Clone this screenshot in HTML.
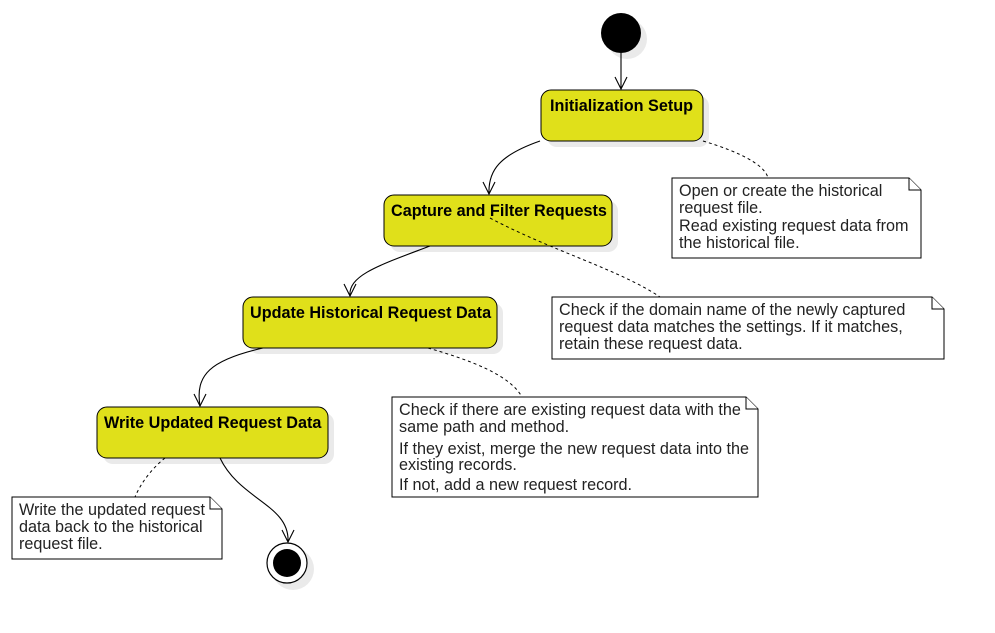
<!DOCTYPE html>
<html><head><meta charset="utf-8"><style>
html,body{margin:0;padding:0;background:#fff;}
svg{display:block;font-family:"Liberation Sans",Arial,sans-serif;}
.n{fill:#e0e01a;stroke:#000;stroke-width:1;}
.s{fill:#eaeaea;}
.b{font-weight:bold;font-size:16.2px;fill:#000;}
.t{font-size:16.2px;fill:#222;}
.c{fill:none;stroke:#000;stroke-width:1.1;}
.d{fill:none;stroke:#000;stroke-width:1;stroke-dasharray:3,3;}
.note{fill:#fff;stroke:#000;stroke-width:1;}
</style></head><body>
<svg width="995" height="633" viewBox="0 0 995 633">
<circle class="s" cx="627" cy="39" r="20"/>
<rect class="s" x="547" y="96" width="162" height="51" rx="10"/>
<rect class="s" x="390" y="201" width="228" height="51" rx="10"/>
<rect class="s" x="249" y="303" width="254" height="51" rx="10"/>
<rect class="s" x="103" y="413" width="231" height="51" rx="10"/>
<circle class="s" cx="293" cy="569" r="21"/>

<circle cx="621" cy="33" r="20" fill="#000"/>
<path class="c" d="M621 53 L621 89"/>
<path class="c" d="M615 77 L621 89 L627 77"/>

<rect class="n" x="541" y="90" width="162" height="51" rx="10"/>
<text class="b" x="550" y="111">Initialization Setup</text>
<rect class="n" x="384" y="195" width="228" height="51" rx="10"/>
<text class="b" x="391" y="216">Capture and Filter Requests</text>
<rect class="n" x="243" y="297" width="254" height="51" rx="10"/>
<text class="b" x="250" y="318">Update Historical Request Data</text>
<rect class="n" x="97" y="407" width="231" height="51" rx="10"/>
<text class="b" x="104" y="428">Write Updated Request Data</text>

<path class="c" d="M540 141 C500 155 488 170 489 194"/>
<path class="c" d="M483 182 L489 194 L495 182"/>
<path class="c" d="M430 246 C380 265 348 275 350 296"/>
<path class="c" d="M344 284 L350 296 L356 284"/>
<path class="c" d="M263 348 C210 360 195 375 200 406"/>
<path class="c" d="M194 394 L200 406 L206 394"/>
<path class="c" d="M220 458 C240 500 290 505 288 542"/>
<path class="c" d="M282 530 L288 542 L294 530"/>

<circle cx="287" cy="563" r="20" fill="#fff" stroke="#000" stroke-width="1.2"/>
<circle cx="287" cy="563" r="14" fill="#000"/>

<path class="d" d="M703 141 C740 152 765 165 768 178"/>
<path class="d" d="M490 218 C550 250 620 270 660 297"/>
<path class="d" d="M428 348 C470 360 510 375 522 397"/>
<path class="d" d="M165 458 C150 470 140 485 135 497"/>

<path class="note" d="M672 178 L909 178 L921 190 L921 258 L672 258 Z"/>
<path class="note" d="M909 178 L909 190 L921 190"/>
<text class="t"><tspan x="679" y="196">Open or create the historical</tspan><tspan x="679" y="213">request file.</tspan><tspan x="679" y="231">Read existing request data from</tspan><tspan x="679" y="248">the historical file.</tspan></text>

<path class="note" d="M552 297 L932 297 L944 309 L944 359 L552 359 Z"/>
<path class="note" d="M932 297 L932 309 L944 309"/>
<text class="t"><tspan x="559" y="315">Check if the domain name of the newly captured</tspan><tspan x="559" y="332">request data matches the settings. If it matches,</tspan><tspan x="559" y="349">retain these request data.</tspan></text>

<path class="note" d="M392 397 L746 397 L758 409 L758 497 L392 497 Z"/>
<path class="note" d="M746 397 L746 409 L758 409"/>
<text class="t"><tspan x="399" y="415">Check if there are existing request data with the</tspan><tspan x="399" y="432">same path and method.</tspan><tspan x="399" y="454">If they exist, merge the new request data into the</tspan><tspan x="399" y="470">existing records.</tspan><tspan x="399" y="490">If not, add a new request record.</tspan></text>

<path class="note" d="M12 497 L210 497 L222 509 L222 559 L12 559 Z"/>
<path class="note" d="M210 497 L210 509 L222 509"/>
<text class="t"><tspan x="19" y="515">Write the updated request</tspan><tspan x="19" y="532">data back to the historical</tspan><tspan x="19" y="549">request file.</tspan></text>
</svg>
</body></html>
